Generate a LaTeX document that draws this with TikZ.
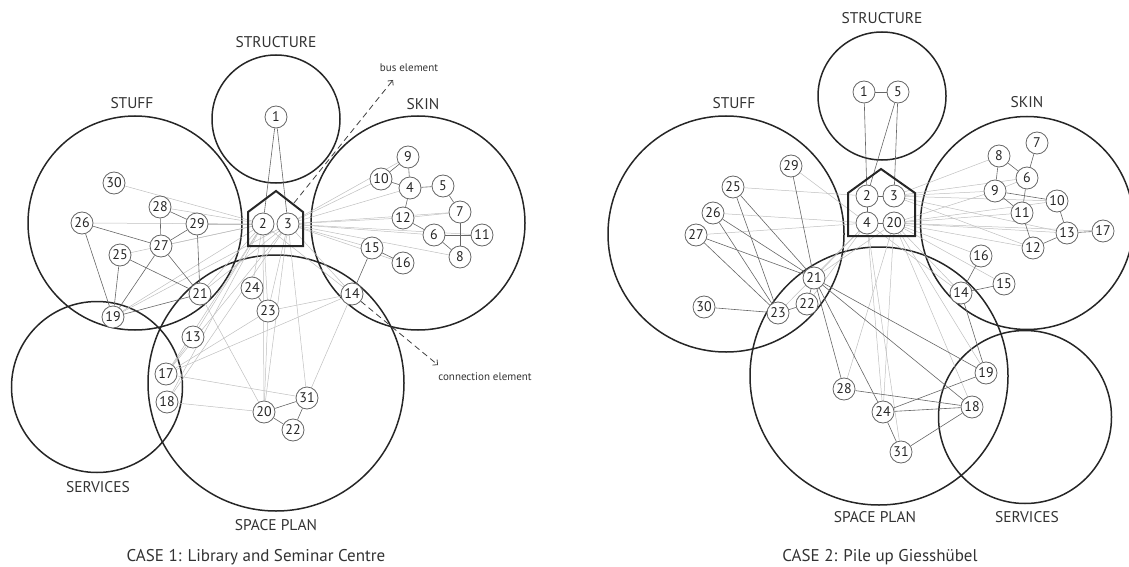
\documentclass[tikz,border=0pt]{standalone}
\usepackage{fontspec}
\setmainfont{PT Sans}
\usetikzlibrary{arrows.meta}
\pgfdeclarelayer{bg}
\pgfsetlayers{bg,main}
\begin{document}
\begin{tikzpicture}[x=1pt,y=-1pt,
  num/.style={circle, draw=black!60, line width=0.8pt, fill=white, minimum size=22pt, inner sep=0pt, font=\fontsize{14}{14}\selectfont, text=black!85},
  region/.style={circle, draw=black!85, line width=1.5pt, inner sep=0pt},
  lab/.style={font=\fontsize{15.5}{15.5}\selectfont, text=black!80},
  captxt/.style={font=\fontsize{17}{17}\selectfont, text=black!80},
  note/.style={font=\fontsize{11}{11}\selectfont, text=black!80},
  dk/.style={draw=black!60, line width=0.6pt},
  lt/.style={draw=black!25, line width=0.5pt},
  house/.style={draw=black!85, line width=2pt, line join=miter},
  arr/.style={draw=black!75, line width=0.8pt, dash pattern=on 6pt off 4pt, -{Straight Barb[angle=90:5pt]}}
]
\useasboundingbox (0,0) rectangle (1129,567);

% ---------- CASE 1 nodes ----------
\foreach \n/\x/\y in {1/276/117, 2/263/224, 3/288/224, 4/410/188, 5/443/186, 6/434/235, 7/460/212, 8/460/257, 9/408/157, 10/381/179, 11/482/235, 12/403/218, 13/193/337, 14/352/294, 15/372/248, 16/403/263, 17/166/374, 18/167/402, 19/113/317, 20/264/412, 21/200/294, 22/293/430, 23/268/311, 24/252/288, 25/120/255, 26/82/223, 27/161/246, 28/160/207, 29/197/224, 30/114/183, 31/307/398}
  \node[num] (a\n) at (\x,\y) {\n};

% ---------- CASE 2 nodes ----------
\foreach \n/\x/\y in {1/864/92, 2/867/196, 3/894/196, 4/867/223, 5/898/92, 6/1027/178, 7/1037/143, 8/999/156, 9/995/191, 10/1057/201, 11/1022/213, 12/1033/248, 13/1067/233, 14/961/293, 15/1004/284, 16/981/256, 17/1103/231, 18/972/407, 19/986/373, 20/894/223, 21/814/278, 22/807/304, 23/778/313, 24/883/412, 25/733/187, 26/713/213, 27/696/235, 28/844/389, 29/791/166, 30/704/307, 31/901/452}
  \node[num] (b\n) at (\x,\y) {\n};

% houses
\draw[house] (248,246) -- (248,212) -- (276,191) -- (303,212) -- (303,246) -- cycle;
\draw[house] (848,236) -- (848,193) -- (881,169) -- (915,193) -- (915,236) -- cycle;

\begin{pgfonlayer}{bg}
% ---------- regions ----------
\node[region, minimum size=128pt] (structA) at (276,119) {};
\node[region, minimum size=214pt] (stuffA) at (135,223) {};
\node[region, minimum size=214pt] (skinA) at (418,223) {};
\node[region, minimum size=256pt] (spaceA) at (276,383) {};
\node[region, minimum size=171pt] (servA) at (97,387) {};

\node[region, minimum size=128pt] (structB) at (882,96) {};
\node[region, minimum size=236pt] (stuffB) at (726,234) {};
\node[region, minimum size=213pt] (skinB) at (1027,223) {};
\node[region, minimum size=258pt] (spaceB) at (879,376) {};
\node[region, minimum size=173pt] (servB) at (1025,417) {};

% ---------- CASE 1 edges ----------
\foreach \p/\q in {30/2, 26/2, 29/2, 27/2, 28/2, 10/3, 4/3, 12/3, 6/3, 7/12, 7/3, 14/3, 21/2, 21/3, 19/2, 19/3, 13/2, 17/2, 17/3, 18/3, 18/2, 23/2, 23/3, 20/2, 20/3, 31/3, 14/23, 14/17, 14/31, 17/31, 18/20, 13/17, 21/20, 23/20, 24/2, 17/23, 25/2, 15/3, 16/3, 14/2, 9/3, 11/3, 8/3}
  \draw[lt] (a\p) -- (a\q);
\foreach \p/\q in {1/2, 1/3, 9/10, 9/4, 10/4, 4/5, 4/12, 5/7, 7/8, 6/11, 12/6, 6/8, 15/16, 15/14, 28/27, 28/29, 29/27, 26/27, 27/21, 29/21, 25/21, 25/19, 26/19, 27/19, 19/21, 24/23, 20/31, 20/22, 22/31}
  \draw[dk] (a\p) -- (a\q);

% ---------- CASE 2 edges ----------
\foreach \p/\q in {8/3, 9/3, 10/3, 11/20, 12/20, 13/20, 16/20, 15/20, 6/3, 14/20, 13/3, 10/20, 9/20, 25/2, 26/4, 27/4, 21/4, 23/4, 22/4, 28/20, 24/4, 24/20, 18/20, 19/20, 14/4, 31/4, 9/6, 21/20, 29/4, 17/20, 12/3}
  \draw[lt] (b\p) -- (b\q);
\foreach \p/\q in {1/5, 1/2, 5/2, 5/3, 2/3, 2/4, 4/20, 8/6, 7/6, 8/9, 6/11, 9/11, 9/10, 10/13, 11/12, 12/13, 13/17, 16/14, 14/15, 14/19, 29/21, 25/21, 25/23, 26/21, 26/23, 27/21, 27/23, 30/23, 23/22, 21/22, 21/28, 21/24, 21/19, 21/18, 28/18, 24/18, 24/19, 24/31, 31/18}
  \draw[dk] (b\p) -- (b\q);
\end{pgfonlayer}

% ---------- labels ----------
\node[lab] (lA1) at (276,42) {STRUCTURE};
\node[lab] (lA2) at (132,103) {STUFF};
\node[lab] (lA3) at (423,104) {SKIN};
\node[lab] (lA4) at (98,487) {SERVICES};
\node[lab] (lA5) at (276,525) {SPACE PLAN};
\node[captxt] (cA) at (256,557) {CASE 1: Library and Seminar Centre};

\node[lab] (lB1) at (882,18) {STRUCTURE};
\node[lab] (lB2) at (734,103) {STUFF};
\node[lab] (lB3) at (1027,102) {SKIN};
\node[lab] (lB4) at (875,517) {SPACE PLAN};
\node[lab] (lB5) at (1027,517) {SERVICES};
\node[captxt] (cB) at (880,557) {CASE 2: Pile up Giesshübel};

% ---------- dashed arrows ----------
\coordinate (busS) at (294,203);
\coordinate (busE) at (393,80);
\draw[arr] (busS) -- (busE);
\node[note] (busT) at (409,68) {bus element};
\coordinate (conE) at (438,365);
\draw[arr] (a14) -- (conE);
\node[note] (conT) at (485,377) {connection element};
\end{tikzpicture}
\end{document}
